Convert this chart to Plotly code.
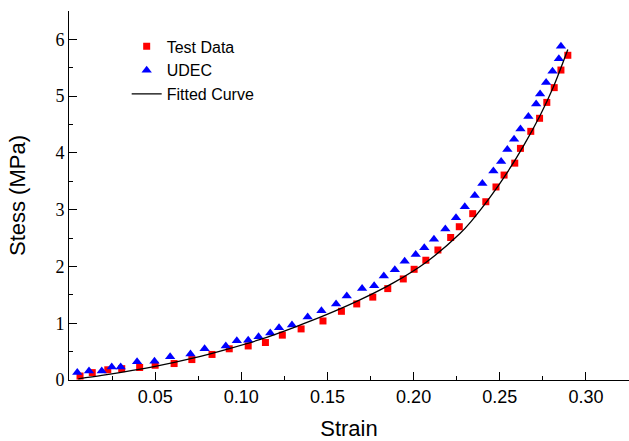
import plotly.graph_objects as go

# Test data (strain, stress MPa)
test_strain = [0.0064, 0.0135, 0.0225, 0.0306, 0.041, 0.050, 0.061, 0.0713, 0.083, 0.093,
               0.104, 0.114, 0.1238, 0.1347, 0.1474, 0.1581, 0.167, 0.1763, 0.185, 0.194,
               0.2003, 0.2071, 0.2141, 0.2215, 0.2265, 0.2343, 0.2419, 0.2478, 0.2525, 0.2587,
               0.262, 0.268, 0.2731, 0.2773, 0.2816, 0.2855, 0.2895]
test_stress = [0.07, 0.13, 0.18, 0.20, 0.22, 0.26, 0.29, 0.36, 0.45, 0.55,
               0.60, 0.66, 0.79, 0.90, 1.04, 1.21, 1.34, 1.46, 1.61, 1.78,
               1.95, 2.11, 2.29, 2.51, 2.70, 2.93, 3.14, 3.40, 3.61, 3.82,
               4.08, 4.38, 4.61, 4.89, 5.15, 5.46, 5.72]

# UDEC results
udec_strain = [0.0048, 0.0116, 0.019, 0.0248, 0.030, 0.0395, 0.0496, 0.0587, 0.0705, 0.0787,
               0.091, 0.0974, 0.104, 0.110, 0.1168, 0.1219, 0.1294, 0.1385, 0.1465, 0.155,
               0.1612, 0.1701, 0.1771, 0.1827, 0.1891, 0.1948, 0.2012, 0.2062, 0.2118, 0.2184,
               0.2246, 0.2297, 0.2355, 0.2399, 0.2463, 0.2508, 0.2544, 0.2583, 0.262, 0.2666,
               0.2711, 0.2734, 0.2769, 0.2806, 0.2843, 0.2855]
udec_stress = [0.13, 0.16, 0.16, 0.23, 0.23, 0.32, 0.33, 0.41, 0.46, 0.55,
               0.60, 0.69, 0.70, 0.76, 0.83, 0.92, 0.97, 1.11, 1.22, 1.34,
               1.48, 1.61, 1.66, 1.83, 1.94, 2.09, 2.21, 2.33, 2.48, 2.66,
               2.86, 3.05, 3.25, 3.46, 3.68, 3.85, 4.06, 4.24, 4.42, 4.64,
               4.86, 5.04, 5.24, 5.44, 5.66, 5.88]

# Fitted curve
fit_strain = [0.0054, 0.019, 0.050, 0.0713, 0.0926, 0.1106, 0.130, 0.1494, 0.1688, 0.1882,
              0.2075, 0.2269, 0.2333, 0.2444, 0.254, 0.2637, 0.2734, 0.2811, 0.2895]
fit_stress = [0.02, 0.08, 0.24, 0.38, 0.55, 0.71, 0.92, 1.15, 1.41, 1.71,
              2.08, 2.58, 2.79, 3.22, 3.64, 4.12, 4.66, 5.16, 5.82]

x_tick_vals = [0.05, 0.10, 0.15, 0.20, 0.25, 0.30]
x_tick_text = ["0.05", "0.10", "0.15", "0.20", "0.25", "0.30"]
y_tick_vals = [0, 1, 2, 3, 4, 5, 6]
y_tick_text = ["0", "1", "2", "3", "4", "5", "6"]

SANS = "Liberation Sans, Arial, sans-serif"
SERIF = "Liberation Serif, Times New Roman, serif"

fig = go.Figure()
fig.add_trace(go.Scatter(
    x=test_strain, y=test_stress, mode="markers", name="Test Data",
    marker=dict(symbol="square", size=7, color="#ff0000", line=dict(width=0)),
))
fig.add_trace(go.Scatter(
    x=udec_strain, y=udec_stress, mode="markers", name="UDEC",
    marker=dict(symbol="triangle-up", size=9, color="#0000ff", line=dict(width=0)),
))
fig.add_trace(go.Scatter(
    x=fit_strain, y=fit_stress, mode="lines", name="Fitted Curve",
    line=dict(color="black", width=1.3, shape="spline", smoothing=0.8),
))

fig.update_layout(
    width=629, height=441,
    margin=dict(l=69, r=0, t=11, b=61),
    paper_bgcolor="white", plot_bgcolor="white",
    showlegend=True,
    legend=dict(x=0.103, y=0.95, xanchor="left", yanchor="top",
                bgcolor="rgba(0,0,0,0)", font=dict(family=SANS, size=16, color="black"),
                tracegroupgap=0, itemsizing="trace"),
    xaxis=dict(
        range=[0, 0.325], showgrid=False, zeroline=False, automargin=False,
        showline=True, linecolor="black", linewidth=1,
        tickmode="array", tickvals=x_tick_vals, ticktext=x_tick_text,
        ticks="inside", ticklen=8, tickwidth=1, tickcolor="black",
        tickfont=dict(family=SANS, size=18, color="black"),
        minor=dict(tickmode="linear", tick0=0.025, dtick=0.05, ticks="inside",
                   ticklen=4, tickwidth=1, tickcolor="black", showgrid=False),
        title=dict(text="Strain", font=dict(family=SANS, size=22, color="black"), standoff=15),
    ),
    yaxis=dict(
        range=[0, 6.5], showgrid=False, zeroline=False, automargin=False,
        showline=True, linecolor="black", linewidth=1,
        tickmode="array", tickvals=y_tick_vals, ticktext=y_tick_text,
        ticks="inside", ticklen=8, tickwidth=1, tickcolor="black",
        tickfont=dict(family=SERIF, size=18, color="black"),
        minor=dict(tickmode="linear", tick0=0.5, dtick=1, ticks="inside",
                   ticklen=4, tickwidth=1, tickcolor="black", showgrid=False),
        title=dict(text="Stess (MPa)", font=dict(family=SANS, size=22, color="black"), standoff=23),
    ),
)

fig.write_html("out.html", config={"displayModeBar": False},
               post_script="document.body.style.margin='0';")
